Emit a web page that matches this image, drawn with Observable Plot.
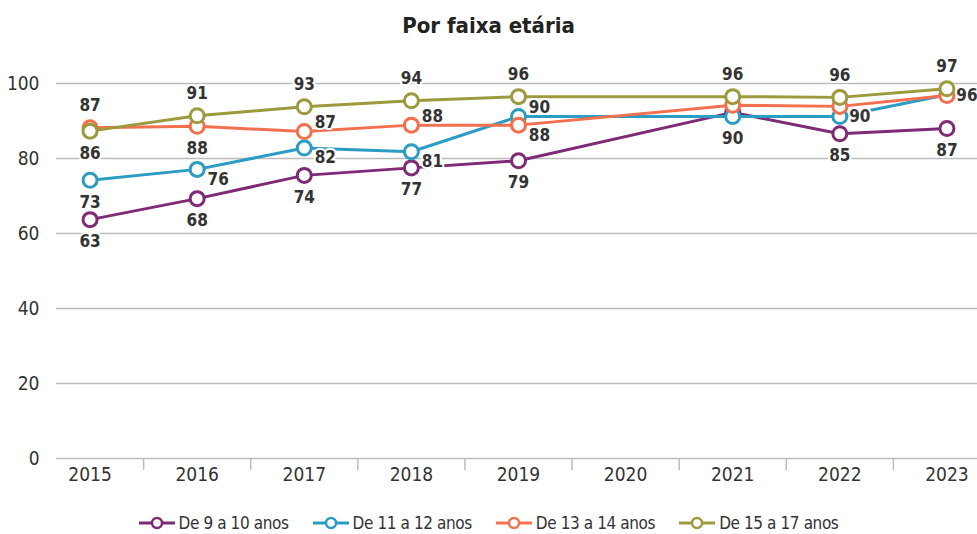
<!DOCTYPE html>
<html>
<head>
<meta charset="utf-8">
<script src="https://cdn.jsdelivr.net/npm/d3@7"></script>
<script src="https://cdn.jsdelivr.net/npm/@observablehq/plot@0.6"></script>
<style>
  html, body { margin: 0; padding: 0; background: #fff; }
  body { position: relative; width: 977px; height: 534px; overflow: hidden; font-family: "DejaVu Sans Condensed", "DejaVu Sans", sans-serif; font-stretch: condensed; color: #333; }
  svg, svg text { font-stretch: condensed; }
  #title { height: 50px; line-height: 52px; text-align: center; font-size: 22px; font-weight: bold; color: #222; }
  #chart svg { display: block; }
  #legend { position: absolute; left: 0; top: 512px; width: 977px; height: 22px; line-height: 22px; display: flex; justify-content: center; align-items: center; gap: 24px; font-size: 17px; letter-spacing: -0.4px; color: #333; }
  .item { display: flex; align-items: center; gap: 4px; }
</style>
</head>
<body>
<div id="title">Por faixa etária</div>
<div id="chart"></div>
<div id="legend"></div>
<script>
// ---- data ----
const axisYears = [2015, 2016, 2017, 2018, 2019, 2020, 2021, 2022, 2023];
const dataYears = [2015, 2016, 2017, 2018, 2019, 2021, 2022, 2023];
const seriesNames = ["De 9 a 10 anos", "De 11 a 12 anos", "De 13 a 14 anos", "De 15 a 17 anos"];
const seriesColors = ["#7f2a74", "#2b9cc3", "#f3704f", "#9c9a3d"];
const age9to10  = [63.7, 69.3, 75.5, 77.5, 79.4, 92.3, 86.6, 88.0];
const age11to12 = [74.2, 77.1, 82.8, 81.8, 91.2, 91.2, 91.2, 97.0];
const age13to14 = [88.2, 88.6, 87.2, 88.9, 88.9, 94.2, 93.9, 96.8];
const age15to17 = [87.3, 91.4, 93.8, 95.4, 96.5, 96.5, 96.3, 98.6];
const yTicks = [0, 20, 40, 60, 80, 100];
// data labels: [series index, year, text, placement]
const labels = [
  [0, 2015, "63", "below"], [0, 2016, "68", "below"], [0, 2017, "74", "below"], [0, 2018, "77", "below"],
  [0, 2019, "79", "below"], [0, 2022, "85", "below"], [0, 2023, "87", "below"],
  [1, 2015, "73", "below"], [1, 2016, "76", "lr"], [1, 2017, "82", "lr"], [1, 2018, "81", "lr"],
  [1, 2019, "90", "ur"], [1, 2021, "90", "below"], [1, 2022, "90", "right"],
  [2, 2015, "87", "above"], [2, 2016, "88", "below"], [2, 2017, "87", "ur"], [2, 2018, "88", "ur"],
  [2, 2019, "88", "lr"], [2, 2023, "96", "right"],
  [3, 2015, "86", "below"], [3, 2016, "91", "above"], [3, 2017, "93", "above"], [3, 2018, "94", "above"],
  [3, 2019, "96", "above"], [3, 2021, "96", "above"], [3, 2022, "96", "above"], [3, 2023, "97", "above"]
];

// ---- build ----
const seriesValues = [age9to10, age11to12, age13to14, age15to17];
const rows = [];
seriesValues.forEach((vals, si) => vals.forEach((v, i) => rows.push({s: si, year: dataYears[i], value: v})));
const lookup = new Map(rows.map(r => [r.s + "-" + r.year, r.value]));
const labelRows = labels.map(([s, year, text, place]) => ({s, year, text, place, value: lookup.get(s + "-" + year)}));
const boundaries = axisYears.slice(0, -1).map(y => y + 0.5);
const offsets = {above: [0, -22], below: [0, 22], ur: [21, -9], lr: [21, 10], right: [20, 0]};
const font = '"DejaVu Sans Condensed", "DejaVu Sans", sans-serif';

const marks = [
  Plot.ruleY(yTicks, {stroke: "#bcbcbc", strokeWidth: 1.5}),
  Plot.axisY(yTicks, {tickSize: 0, tickPadding: 17, fontSize: 19, fill: "#333", label: null}),
  Plot.axisX(boundaries, {tickSize: 12, stroke: "#bcbcbc", strokeWidth: 1.5, tickFormat: () => "", label: null}),
  Plot.axisX(axisYears, {tickSize: 0, tickPadding: 9, fontSize: 19, fill: "#333", tickFormat: d => String(d), label: null})
];
seriesValues.forEach((_, si) => {
  const data = rows.filter(r => r.s === si);
  marks.push(Plot.line(data, {x: "year", y: "value", stroke: seriesColors[si], strokeWidth: 3}));
  marks.push(Plot.dot(data, {x: "year", y: "value", r: 7, stroke: seriesColors[si], strokeWidth: 3, fill: "white"}));
});
for (const place of Object.keys(offsets)) {
  const [dx, dy] = offsets[place];
  marks.push(Plot.text(labelRows.filter(d => d.place === place), {
    x: "year", y: "value", text: "text", dx, dy, fontSize: 17, fontWeight: 600, fill: "#333",
    stroke: "white", strokeWidth: 4, textAnchor: "middle"
  }));
}

const chart = Plot.plot({
  width: 977,
  height: 445,
  marginLeft: 56,
  marginRight: 0,
  marginTop: 33,
  marginBottom: 37,
  style: {fontFamily: font, background: "white", overflow: "visible"},
  x: {type: "linear", domain: [2014.5, 2023.5], range: [36, 1000]},
  y: {domain: [0, 100]},
  marks
});
document.getElementById("chart").appendChild(chart);

const legend = document.getElementById("legend");
seriesNames.forEach((name, i) => {
  const item = document.createElement("div");
  item.className = "item";
  item.innerHTML = `<svg width="36" height="14"><line x1="0" x2="36" y1="7" y2="7" stroke="${seriesColors[i]}" stroke-width="3"/><circle cx="18" cy="7" r="5" fill="white" stroke="${seriesColors[i]}" stroke-width="2.5"/></svg><span>${name}</span>`;
  legend.appendChild(item);
});
</script>
</body>
</html>
